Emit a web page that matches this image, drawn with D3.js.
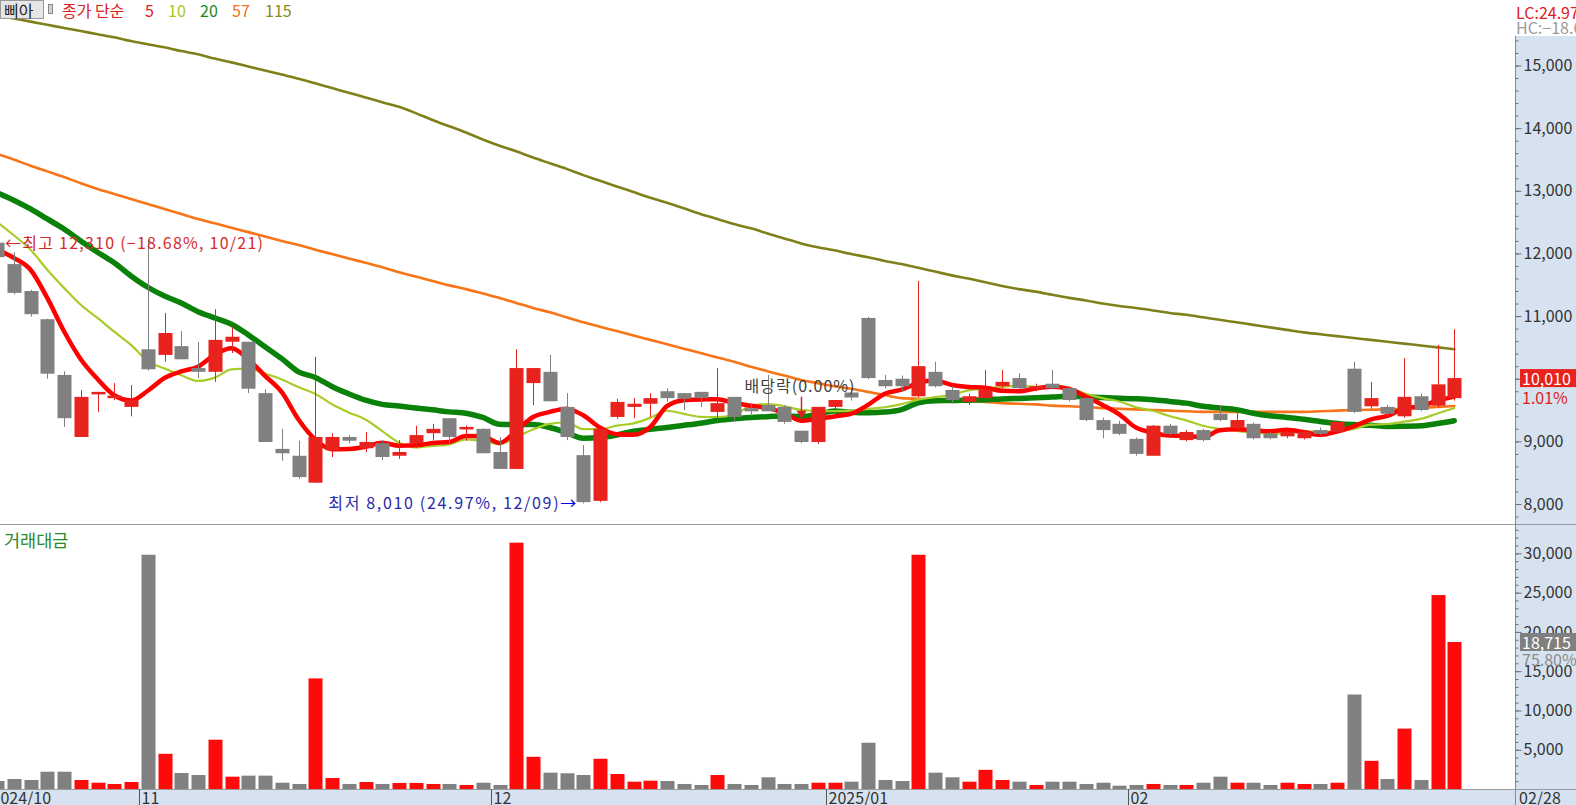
<!DOCTYPE html>
<html><head><meta charset="utf-8">
<script src="https://cdn.jsdelivr.net/npm/d3@7"></script>
<style>
html,body{margin:0;padding:0;background:#fff;overflow:hidden;}
svg{display:block;font-family:"Noto Sans CJK KR","Noto Sans",sans-serif;}
</style></head><body>
<svg id="chart" width="1576" height="805"></svg>
<script>
// ---------------- DATA ----------------
const dates = ["2024-10-21","2024-10-22","2024-10-23","2024-10-24","2024-10-25","2024-10-28","2024-10-29","2024-10-30","2024-10-31",
"2024-11-01","2024-11-04","2024-11-05","2024-11-06","2024-11-07","2024-11-08","2024-11-11","2024-11-12","2024-11-13","2024-11-14","2024-11-15","2024-11-18","2024-11-19","2024-11-20","2024-11-21","2024-11-22","2024-11-25","2024-11-26","2024-11-27","2024-11-28","2024-11-29",
"2024-12-02","2024-12-03","2024-12-04","2024-12-05","2024-12-06","2024-12-09","2024-12-10","2024-12-11","2024-12-12","2024-12-13","2024-12-16","2024-12-17","2024-12-18","2024-12-19","2024-12-20","2024-12-23","2024-12-24","2024-12-26","2024-12-27","2024-12-30",
"2025-01-02","2025-01-03","2025-01-06","2025-01-07","2025-01-08","2025-01-09","2025-01-10","2025-01-13","2025-01-14","2025-01-15","2025-01-16","2025-01-17","2025-01-20","2025-01-21","2025-01-22","2025-01-23","2025-01-24","2025-01-31",
"2025-02-03","2025-02-04","2025-02-05","2025-02-06","2025-02-07","2025-02-10","2025-02-11","2025-02-12","2025-02-13","2025-02-14","2025-02-17","2025-02-18","2025-02-19","2025-02-20","2025-02-21","2025-02-24","2025-02-25","2025-02-26","2025-02-27","2025-02-28"];

const open = [12170,11830,11400,10950,10060,9070,9760,9710,9550,
10470,10380,10520,10170,10110,10590,10590,9770,8880,8770,8340,8860,9070,8890,8970,8770,8970,9130,9370,9200,9200,
8830,8560,9930,10110,9550,8780,8050,9390,9550,9600,9800,9770,9790,9470,9710,9530,9580,9550,9170,8990,
9550,9780,10970,9980,10000,9720,10110,9820,9630,9690,9880,10010,9850,9920,9850,9690,9340,9280,
9040,8770,9250,9020,9180,9440,9210,9280,9120,9080,9050,9180,9150,10160,9560,9550,9400,9720,9570,9690];

const high = [12310,12020,11420,10960,10120,9820,9790,9930,9900,
12210,11050,10760,10590,11110,10830,10590,9830,9200,9010,10350,9130,9100,9150,9020,9020,9250,9280,9370,9250,9210,
9070,10470,10170,10380,9770,8940,9200,9680,9690,9770,9850,9770,9790,10170,9710,9610,10060,9580,9170,9550,
9660,9850,10990,10060,10050,11560,10270,9880,9760,10140,10140,10090,9920,10140,9880,9700,9380,9330,
9060,9260,9280,9180,9200,9580,9500,9300,9150,9180,9180,9220,9330,10270,9950,9580,10330,9760,10540,10790];

const low = [11900,11350,10990,10000,9230,9070,9470,9660,9400,
10130,10270,10310,10010,9950,10410,9770,8990,8690,8400,8340,8750,8970,8830,8700,8720,8890,9020,8970,9010,8810,
8560,8560,9580,9640,9020,8010,8030,9360,9370,9390,9630,9500,9550,9290,9310,9400,9480,9280,8970,8960,
9500,9650,9990,9850,9800,9700,9860,9600,9580,9650,9850,9830,9800,9830,9640,9320,9050,9100,
8770,8770,9100,9000,9000,9320,9180,9030,9030,9050,9030,9100,9130,9450,9520,9400,9380,9480,9540,9650];

const close = [11940,11370,11030,10080,9370,9710,9790,9730,9660,
10150,10730,10310,10110,10620,10670,9840,8990,8810,8430,9070,9070,9010,8990,8750,8830,9100,9200,9070,9230,8810,
8560,10170,10170,9640,9070,8030,9200,9630,9600,9690,9690,9680,9690,9610,9390,9480,9480,9310,8990,9550,
9660,9700,10010,9880,9880,10200,9880,9660,9720,9820,9950,9850,9880,9850,9660,9340,9180,9120,
8800,9250,9120,9150,9020,9340,9340,9050,9050,9150,9150,9120,9310,9470,9690,9440,9710,9500,9910,10010];

// 거래대금 (백만원)
const tradeValue = [1020,1270,1150,2200,2200,1150,800,640,890,
29820,4480,2040,1780,6280,1570,1700,1700,800,640,14080,1400,640,890,640,770,770,640,640,510,800,
510,31360,4100,2080,2000,1780,3850,1910,930,1060,1020,640,510,1780,640,510,1490,640,640,800,
800,930,5890,1150,1020,29820,2080,1490,930,2440,1150,930,510,930,930,640,800,420,
510,640,510,510,800,1570,800,800,510,800,640,640,800,12030,3590,1270,7690,1150,24690,18715];

const ma5Head = [12060,11930,11740,11290];
const ma10Head = [12500,12290,12060,11740,11450,11180,10970,10750,10540];
const ma20Head = [12970,12850,12710,12550,12390,12200,12020,11850,11640,11460,11320,11210,11070,10970,10870,10700,10510,10320,10110];
const ma57 = [13590,13500,13400,13310,13220,13120,13030,12950,12870,12790,12710,12630,
12550,12480,12410,12340,12270,12200,12135,12060,11990,11920,11850,11780,
11700,11630,11560,11490,11430,11360,11290,11210,11130,11060,10980,10900,
10830,10760,10690,10620,10550,10480,10410,10340,10270,10190,10120,10050,
9980,9930,9880,9840,9790,9740,9690,9680,9670,9650,9640,9630,
9610,9600,9590,9570,9560,9550,9530,9520,9510,9500,9490,9480,
9470,9470,9470,9470,9470,9470,9470,9480,9490,9500,9505,9510,9520,9535,9550,9565];
const ma115 = [15800,15750,15700,15650,15600,15550,15500,15450,15390,15340,15290,15230,
15180,15110,15050,14985,14920,14855,14790,14715,14640,14565,14490,14415,
14340,14240,14130,14030,13930,13820,13720,13630,13530,13440,13350,13250,
13160,13070,12980,12890,12810,12720,12630,12550,12470,12400,12320,12240,
12160,12100,12050,11990,11940,11880,11830,11770,11710,11650,11600,11540,
11480,11430,11390,11340,11290,11250,11200,11160,11130,11090,11050,11020,
10980,10940,10900,10860,10820,10780,10740,10710,10680,10650,10620,10590,
10560,10530,10500,10470];

const priceTicks = [8000,9000,10000,11000,12000,13000,14000,15000];
const volumeTicks = [5000,10000,15000,20000,25000,30000];
const monthTickDates = ["2024-10-21","2024-11-01","2024-12-02","2025-01-02","2025-02-03"];
const monthTickLabels = ["2024/10","11","12","2025/01","02"];
const lastDateLabel = "02/28";
const exDividendDate = "2024-12-27";

// ---------------- LAYOUT ----------------
const W = 1576, H = 805;
const axisX = 1515, priceBottom = 524, volBottom = 789;
const step = 16.75, bodyW = 14;
const RED = "#e8221c", GRAY = "#808080";

const svg = d3.select("#chart");
const x = d3.scaleBand().domain(dates).range([-11.375, -11.375 + step * dates.length]).paddingInner(0);
const cx = d => x(d) + x.bandwidth() / 2;
const yP = d3.scaleLinear().domain([8000, 15000]).range([504, 65.5]);
const yV = d3.scaleLinear().domain([0, 30000]).range([volBottom, 553.35]);

svg.append("rect").attr("width", W).attr("height", H).attr("fill", "#fff");
svg.append("rect").attr("x", axisX).attr("y", 36).attr("width", W - axisX).attr("height", H - 36).attr("fill", "#d6e2ef");
svg.append("rect").attr("x", 0).attr("y", volBottom).attr("width", axisX).attr("height", H - volBottom).attr("fill", "#d6e2ef");

const defs = svg.append("defs");
defs.append("clipPath").attr("id", "cp").append("rect").attr("x", 0).attr("y", 0).attr("width", axisX).attr("height", priceBottom);
defs.append("clipPath").attr("id", "cv").append("rect").attr("x", 0).attr("y", priceBottom).attr("width", axisX).attr("height", volBottom - priceBottom);

// moving averages
const maCalc = (n, head) => close.map((c, i) => i < n - 1 ? head[i] : d3.mean(close.slice(i - n + 1, i + 1)));
const ma5 = maCalc(5, ma5Head), ma10 = maCalc(10, ma10Head), ma20 = maCalc(20, ma20Head);
const lines = [
  {v: ma115, c: "#80801a", w: 2.6},
  {v: ma57, c: "#f87418", w: 2.6},
  {v: ma20, c: "#0a820a", w: 5.5},
  {v: ma10, c: "#a8cc28", w: 2.2},
  {v: ma5, c: "#ff0000", w: 4.5}
];
const gP = svg.append("g").attr("clip-path", "url(#cp)");
const lineGen = d3.line().x((d, i) => cx(dates[i])).y(d => yP(d)).curve(d3.curveMonotoneX);
lines.forEach(l => {
  gP.append("path").attr("d", lineGen(l.v)).attr("fill", "none").attr("stroke", l.c)
    .attr("stroke-width", l.w).attr("stroke-linejoin", "round").attr("stroke-linecap", "round");
});

// candles
const idx = d3.range(dates.length);
const candle = gP.selectAll("g.c").data(idx).join("g");
candle.append("line")
  .attr("x1", i => Math.round(cx(dates[i])) + 0.5).attr("x2", i => Math.round(cx(dates[i])) + 0.5)
  .attr("y1", i => yP(high[i])).attr("y2", i => yP(low[i]))
  .attr("stroke", i => close[i] >= open[i] ? RED : GRAY).attr("stroke-width", 1);
candle.append("rect")
  .attr("x", i => Math.round(cx(dates[i]) - bodyW / 2) + 0.5)
  .attr("width", bodyW)
  .attr("y", i => yP(Math.max(open[i], close[i])))
  .attr("height", i => Math.max(2.5, yP(Math.min(open[i], close[i])) - yP(Math.max(open[i], close[i]))))
  .attr("fill", i => close[i] >= open[i] ? RED : GRAY);

// volume
const gV = svg.append("g").attr("clip-path", "url(#cv)");
gV.selectAll("rect").data(idx).join("rect")
  .attr("x", i => Math.round(cx(dates[i]) - bodyW / 2) + 0.5)
  .attr("width", bodyW)
  .attr("y", i => yV(tradeValue[i]))
  .attr("height", i => volBottom - yV(tradeValue[i]))
  .attr("fill", i => close[i] >= open[i] ? "#ff0a0a" : GRAY);

// frame lines
svg.append("line").attr("x1", 0).attr("x2", W).attr("y1", priceBottom + 0.5).attr("y2", priceBottom + 0.5).attr("stroke", "#9a9a9a");
svg.append("line").attr("x1", 0).attr("x2", W).attr("y1", volBottom + 0.5).attr("y2", volBottom + 0.5).attr("stroke", "#9a9a9a");
svg.append("line").attr("x1", axisX + 0.5).attr("x2", axisX + 0.5).attr("y1", 36).attr("y2", H).attr("stroke", "#8a8a8a");

// price axis
const fmt = d3.format(",");
const minorP = d3.range(7800, 16200, 200).filter(v => yP(v) > 40 && yP(v) < priceBottom - 2);
const axP = svg.append("g").attr("transform", `translate(${axisX + 0.5},0)`);
axP.append("g").call(d3.axisRight(yP).tickValues(minorP).tickSize(3).tickFormat(""));
axP.append("g").call(d3.axisRight(yP).tickValues(priceTicks).tickSize(6).tickPadding(2).tickFormat(fmt));
const minorV = d3.range(1000, 34000, 1000).filter(v => yV(v) > priceBottom + 3);
const axV = svg.append("g").attr("transform", `translate(${axisX + 0.5},0)`);
axV.append("g").call(d3.axisRight(yV).tickValues(minorV).tickSize(3).tickFormat(""));
axV.append("g").call(d3.axisRight(yV).tickValues(volumeTicks).tickSize(6).tickPadding(2).tickFormat(fmt));
svg.selectAll(".domain").remove();
svg.selectAll(".tick line").attr("stroke", "#707070");
svg.selectAll(".tick text").attr("fill", "#333").style("font-size", "16px")
  .style("font-family", '"Noto Sans CJK KR", sans-serif');

// x axis (month ticks)
monthTickDates.forEach((d, k) => {
  const xx = Math.round(x(d)) + 0.5;
  svg.append("line").attr("x1", xx).attr("x2", xx).attr("y1", volBottom).attr("y2", H).attr("stroke", "#555");
  svg.append("text").attr("x", xx + 2).attr("y", 797).attr("dominant-baseline", "central")
    .attr("fill", "#333").style("font-size", "16px").text(monthTickLabels[k]);
});
svg.append("text").attr("x", axisX + 4).attr("y", 797).attr("dominant-baseline", "central")
  .attr("fill", "#333").style("font-size", "16px").text(lastDateLabel);

// current price label
const last = close.length - 1;
const pct = (close[last] / close[last - 1] - 1) * 100;
const cy = yP(close[last]);
svg.append("rect").attr("x", axisX + 5).attr("y", cy - 9).attr("width", W - axisX - 5).attr("height", 18).attr("fill", "#e8221c");
svg.append("text").attr("x", axisX + 7).attr("y", cy).attr("dominant-baseline", "central").attr("fill", "#fff")
  .style("font-size", "16px").text(fmt(close[last]));
svg.append("text").attr("x", axisX + 7).attr("y", cy + 19).attr("dominant-baseline", "central").attr("fill", "#e02020")
  .style("font-size", "16px").text(d3.format(".2f")(pct) + "%");

// current trade value label
const vy = yV(tradeValue[last]);
const vr = tradeValue[last] / tradeValue[last - 1] * 100;
svg.append("rect").attr("x", axisX + 5).attr("y", vy - 9).attr("width", W - axisX - 5).attr("height", 18).attr("fill", "#7f7f7f");
svg.append("text").attr("x", axisX + 7).attr("y", vy).attr("dominant-baseline", "central").attr("fill", "#fff")
  .style("font-size", "16px").text(fmt(tradeValue[last]));
svg.append("text").attr("x", axisX + 7).attr("y", vy + 17).attr("dominant-baseline", "central").attr("fill", "#8c8c8c")
  .style("font-size", "16px").text(d3.format(".2f")(vr) + "%");

// LC / HC
const hiIdx = d3.maxIndex(high), loIdx = d3.minIndex(low);
const lc = (close[last] / low[loIdx] - 1) * 100, hc = (close[last] / high[hiIdx] - 1) * 100;
svg.append("text").attr("x", axisX + 1).attr("y", 12).attr("dominant-baseline", "central").attr("fill", "#e02020")
  .style("font-size", "16px").text("LC:" + d3.format(".2f")(lc) + "%");
svg.append("text").attr("x", axisX + 1).attr("y", 27).attr("dominant-baseline", "central").attr("fill", "#9a9a9a")
  .style("font-size", "16px").text("HC:" + d3.format(".2f")(hc) + "%");

// high / low annotations
const md = s => s.slice(5, 7) + "/" + s.slice(8, 10);
svg.append("text").attr("x", cx(dates[hiIdx]) + 8).attr("y", yP(high[hiIdx]) + 8).attr("dominant-baseline", "central")
  .attr("fill", "#d42a2a").style("font-size", "16px").attr("textLength", 258).attr("lengthAdjust", "spacing")
  .text(`←최고 ${fmt(high[hiIdx])} (${d3.format(".2f")(hc)}%, ${md(dates[hiIdx])})`);
const lowText = svg.append("text").attr("x", cx(dates[loIdx]) - 7).attr("y", yP(low[loIdx]) - 1)
  .attr("dominant-baseline", "central").attr("text-anchor", "end").style("font-size", "16px")
  .attr("textLength", 248).attr("lengthAdjust", "spacing");
lowText.append("tspan").attr("fill", "#2a2aa8").text(`최저 ${fmt(low[loIdx])} (${d3.format(".2f")(lc)}%, ${md(dates[loIdx])})`);
lowText.append("tspan").attr("fill", "#0000ee").text("→");

// ex-dividend marker
const exX = Math.round(cx(exDividendDate)) + 0.5;
const exI = dates.indexOf(exDividendDate);
const tip = yP(high[exI]) - 12;
svg.append("line").attr("x1", exX).attr("x2", exX).attr("y1", tip - 22).attr("y2", tip - 6).attr("stroke", "#e02020").attr("stroke-width", 1.5);
svg.append("path").attr("d", `M${exX - 5},${tip - 8}L${exX + 5},${tip - 8}L${exX},${tip}Z`).attr("fill", "#e02020");
svg.append("text").attr("x", exX - 57).attr("y", 385).attr("dominant-baseline", "central").attr("fill", "#404040")
  .style("font-size", "16px").attr("textLength", 110).attr("lengthAdjust", "spacing").text("배당락(0.00%)");

// panel titles / legend
svg.append("text").attr("x", 4).attr("y", 539).attr("dominant-baseline", "central").attr("fill", "#2a8a2a")
  .style("font-size", "17.5px").text("거래대금");

svg.append("rect").attr("x", 0.5).attr("y", 0.5).attr("width", 43).attr("height", 18).attr("fill", "#e6e6e6").attr("stroke", "#9a9a9a");
svg.append("text").attr("x", 4).attr("y", 10).attr("dominant-baseline", "central").attr("fill", "#222").style("font-size", "16px").text("삐아");
svg.append("rect").attr("x", 48.5).attr("y", 4.5).attr("width", 4).attr("height", 9).attr("fill", "#d0d0d0").attr("stroke", "#888");
const legendItems = [
  {t: "종가 단순", x: 62, c: "#e02020"},
  {t: "5", x: 145, c: "#e02020"},
  {t: "10", x: 168, c: "#a8c820"},
  {t: "20", x: 200, c: "#1a8a1a"},
  {t: "57", x: 232, c: "#f07020"},
  {t: "115", x: 265, c: "#8a8a20"}
];
legendItems.forEach(l => {
  svg.append("text").attr("x", l.x).attr("y", 10).attr("dominant-baseline", "central").attr("fill", l.c)
    .style("font-size", "16px").text(l.t);
});
</script>
</body></html>
